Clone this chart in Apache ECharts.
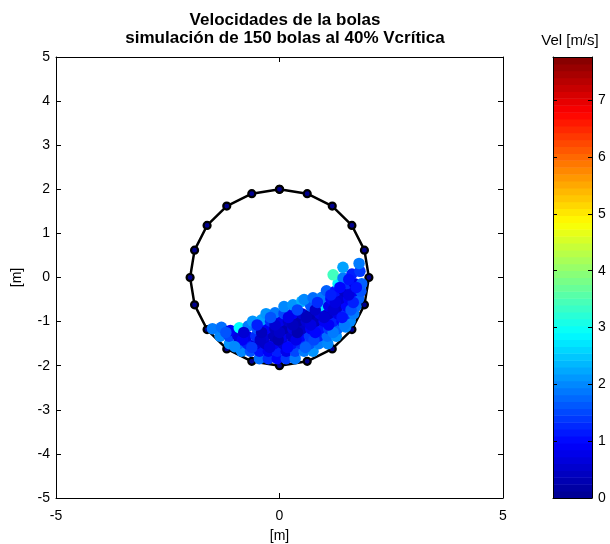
<!DOCTYPE html>
<html>
<head>
<meta charset="utf-8">
<script src="https://cdn.jsdelivr.net/npm/echarts@6/dist/echarts.min.js"></script>
<style>html,body{margin:0;padding:0;background:#fff}#c{width:610px;height:544px}</style>
</head>
<body>
<div id="c"></div>
<script>
// ---- Data ----
const titleText = 'Velocidades de la bolas\nsimulación de 150 bolas al 40% Vcrítica';
const xTicks = [-5, 0, 5];
const yTicks = [-5, -4, -3, -2, -1, 0, 1, 2, 3, 4, 5];
const cbarTicks = [0, 1, 2, 3, 4, 5, 6, 7];
const cbarMax = 7.76;

// mill shell (lifter points), closed polygon
const ringX = [0, 0.62, 1.18, 1.62, 1.9, 2.0, 1.9, 1.62, 1.18, 0.62, 0, -0.62, -1.18, -1.62, -1.9, -2.0, -1.9, -1.62, -1.18, -0.62, 0];
const ringY = [2.0, 1.9, 1.62, 1.18, 0.62, 0, -0.62, -1.18, -1.62, -1.9, -2.0, -1.9, -1.62, -1.18, -0.62, 0, 0.62, 1.18, 1.62, 1.9, 2.0];

// balls: x [m], y [m], velocity [m/s]
const ballX = [
  -0.45,-0.25,-0.05,0.15,0.35,
  -0.85,-0.65,-0.45,-0.25,-0.05,0.15,0.35,0.55,0.75,
  -1.12,-0.92,-0.72,-0.52,-0.32,-0.12,0.08,0.28,0.48,0.68,0.88,1.08,
  -1.33,-1.13,-0.93,-0.73,-0.53,-0.33,-0.13,0.07,0.27,0.47,0.67,0.87,1.07,1.27,
  -1.5,-1.3,-1.1,-0.9,-0.7,-0.5,-0.3,-0.1,0.1,0.3,0.5,0.7,0.9,1.1,1.3,1.48,
  -0.6,-0.4,-0.2,0.0,0.2,0.4,0.6,0.8,1.0,1.2,1.4,1.58,
  -0.3,-0.1,0.1,0.3,0.5,0.7,0.9,1.1,1.3,1.5,1.66,
  0.1,0.3,0.5,0.7,0.91,1.1,1.3,1.5,1.71,
  0.55,0.75,0.95,1.15,1.35,1.55,1.77,
  1.05,1.25,1.45,1.65,1.82,
  1.31,1.5,1.68,1.84,
  1.2,1.42,1.62,1.8,
  1.42,1.78,
  -0.62,-0.22,0.18,0.58,
  -0.83,-0.43,-0.03,0.37,0.77,
  -1.2,-0.8,-0.4,0.0,0.4,0.8,1.2,
  -0.5,-0.1,0.3,0.7,1.1,1.45,
  -0.2,0.2,0.6,1.0,1.4,
  0.4,0.8,1.2,1.6,
  0.85,1.25,1.65,
  1.15,1.55,
  1.35,1.72,
  1.55,
  -1.0
];
const ballY = [
  -1.84,-1.84,-1.84,-1.84,-1.84,
  -1.67,-1.67,-1.67,-1.67,-1.67,-1.67,-1.67,-1.67,-1.67,
  -1.5,-1.5,-1.5,-1.5,-1.5,-1.5,-1.5,-1.5,-1.5,-1.5,-1.5,-1.5,
  -1.33,-1.33,-1.33,-1.33,-1.33,-1.33,-1.33,-1.33,-1.33,-1.33,-1.33,-1.33,-1.33,-1.33,
  -1.16,-1.13,-1.2,-1.14,-1.1,-1.16,-1.16,-1.16,-1.16,-1.16,-1.16,-1.16,-1.16,-1.16,-1.16,-1.12,
  -0.99,-0.96,-0.99,-0.99,-0.99,-0.99,-0.99,-0.99,-0.99,-0.99,-0.99,-0.99,
  -0.82,-0.8,-0.82,-0.82,-0.82,-0.82,-0.82,-0.82,-0.82,-0.82,-0.82,
  -0.66,-0.62,-0.54,-0.65,-0.64,-0.65,-0.65,-0.65,-0.65,
  -0.5,-0.46,-0.45,-0.48,-0.48,-0.48,-0.48,
  -0.3,-0.31,-0.31,-0.31,-0.31,
  -0.14,-0.14,-0.14,-0.14,
  0.06,-0.01,0.08,0.14,
  0.23,0.32,
  -1.585,-1.585,-1.585,-1.585,
  -1.415,-1.415,-1.415,-1.415,-1.415,
  -1.245,-1.245,-1.245,-1.245,-1.245,-1.245,-1.245,
  -1.075,-1.075,-1.075,-1.075,-1.075,-1.075,
  -0.905,-0.905,-0.905,-0.905,-0.905,
  -0.735,-0.735,-0.735,-0.735,
  -0.565,-0.565,-0.565,
  -0.395,-0.395,
  -0.225,-0.225,
  -0.045,
  -1.57
];
const ballV = [
  1.8,1.3,1.0,1.4,1.9,
  2.0,1.6,1.1,0.9,1.2,0.8,1.5,1.9,2.1,
  2.1,1.7,1.2,0.7,0.5,0.9,0.6,1.1,1.3,1.6,1.9,2.0,
  2.0,1.5,0.7,0.8,1.3,0.6,0.4,0.8,0.5,1.0,1.4,1.2,1.8,2.1,
  1.9,1.8,0.9,2.9,1.9,1.6,0.9,0.4,0.3,0.7,0.5,0.9,1.1,1.4,1.7,2.0,
  2.1,2.2,1.3,0.8,0.5,0.3,0.6,0.4,0.9,1.2,1.0,2.0,
  2.1,1.9,1.5,0.9,0.6,0.3,0.7,0.5,0.8,1.3,1.9,
  2.0,2.1,2.3,1.6,2.7,0.8,0.5,1.0,1.8,
  2.0,1.8,1.9,1.0,0.6,0.9,1.7,
  1.7,1.1,0.5,0.9,1.6,
  2.8,1.3,0.8,1.7,
  3.4,1.9,1.2,1.4,
  2.2,1.9,
  1.4,0.7,1.0,1.7,
  0.9,0.5,0.3,0.8,1.5,
  1.6,0.6,0.4,0.5,0.3,1.0,1.9,
  1.2,0.6,0.4,0.7,0.9,1.9,
  1.6,0.8,0.4,0.6,1.1,
  1.5,0.5,0.6,1.6,
  1.3,0.7,1.2,
  1.2,0.7,
  1.0,1.1,
  1.1,
  2.0
];

// ---- Build ----
const jet = ['#00008f','#0000ff','#0080ff','#00ffff','#80ff80','#ffff00','#ff8000','#ff0000','#800000'];
const ringData = ringX.map((x, i) => [x, ringY[i]]);
const ballData = ballX.map((x, i) => [x, ballY[i], ballV[i]]);
const nLev = 64;
const cbarData = [];
for (let i = 0; i < nLev; i++) {
  const lo = cbarMax * i / nLev, hi = cbarMax * (i + 1) / nLev;
  cbarData.push([lo, hi, (lo + hi) / 2]);
}
const font = 'Liberation Sans, Arial, Helvetica, sans-serif';
const lbl = {color: '#000', fontSize: 14, fontFamily: font};
const axLine = {show: true, onZero: false, lineStyle: {color: '#000', width: 1}};

const chart = echarts.init(document.getElementById('c'));
chart.setOption({
  animation: false,
  backgroundColor: '#fff',
  title: [
    {text: titleText, left: 280, top: 6, textAlign: 'center',
     textStyle: {fontSize: 17, fontWeight: 'bold', color: '#000', fontFamily: font, lineHeight: 18}},
    {text: 'Vel [m/s]', left: 565, top: 28, textAlign: 'center',
     textStyle: {fontSize: 15, fontWeight: 'normal', color: '#000', fontFamily: font}}
  ],
  grid: [
    {left: 56, right: 107, top: 57, bottom: 46, outerBoundsMode: 'none', containLabel: false},
    {left: 553, width: 39, top: 57, bottom: 46, outerBoundsMode: 'none', containLabel: false}
  ],
  visualMap: {type: 'continuous', show: false, min: 0, max: cbarMax, dimension: 2,
    seriesIndex: [2, 3], inRange: {color: jet}},
  xAxis: [
    {gridIndex: 0, type: 'value', min: -5, max: 5, interval: 5, position: 'bottom',
     axisLine: axLine, axisTick: {inside: true, length: 5, lineStyle: {color: '#000'}},
     axisLabel: Object.assign({margin: 11}, lbl), splitLine: {show: false},
     name: '[m]', nameLocation: 'middle', nameGap: 31, nameTextStyle: lbl},
    {gridIndex: 0, type: 'value', min: -5, max: 5, interval: 5, position: 'top',
     axisLine: axLine, axisTick: {inside: true, length: 5, lineStyle: {color: '#000'}},
     axisLabel: {show: false}, splitLine: {show: false}},
    {gridIndex: 1, type: 'value', min: 0, max: 1, position: 'bottom', z: 10,
     axisLine: axLine, axisTick: {show: false}, axisLabel: {show: false}, splitLine: {show: false}},
    {gridIndex: 1, type: 'value', min: 0, max: 1, position: 'top', z: 10,
     axisLine: axLine, axisTick: {show: false}, axisLabel: {show: false}, splitLine: {show: false}}
  ],
  yAxis: [
    {gridIndex: 0, type: 'value', min: -5, max: 5, interval: 1, position: 'left',
     axisLine: axLine, axisTick: {inside: true, length: 5, lineStyle: {color: '#000'}},
     axisLabel: Object.assign({margin: 6}, lbl), splitLine: {show: false},
     name: '[m]', nameLocation: 'middle', nameGap: 32, nameRotate: 90, nameTextStyle: lbl},
    {gridIndex: 0, type: 'value', min: -5, max: 5, interval: 1, position: 'right',
     axisLine: axLine, axisTick: {inside: true, length: 5, lineStyle: {color: '#000'}},
     axisLabel: {show: false}, splitLine: {show: false}},
    {gridIndex: 1, type: 'value', min: 0, max: cbarMax, interval: 1, position: 'right', z: 10,
     axisLine: axLine, axisTick: {inside: true, length: 4, lineStyle: {color: '#000'}},
     axisLabel: Object.assign({margin: 6, showMaxLabel: false,
       formatter: v => (Number.isInteger(v) ? String(v) : '')}, lbl),
     splitLine: {show: false}},
    {gridIndex: 1, type: 'value', min: 0, max: cbarMax, interval: 1, position: 'left', z: 10,
     axisLine: axLine, axisTick: {inside: true, length: 4, lineStyle: {color: '#000'}},
     axisLabel: {show: false}, splitLine: {show: false}}
  ],
  series: [
    {type: 'line', xAxisIndex: 0, yAxisIndex: 0, data: ringData, symbol: 'none',
     lineStyle: {color: '#000', width: 2.5}, z: 2, silent: true},
    {type: 'scatter', xAxisIndex: 0, yAxisIndex: 0, data: ringData, symbol: 'circle', symbolSize: 7,
     itemStyle: {color: '#00008f', borderColor: '#000', borderWidth: 2.2, opacity: 1}, z: 3, silent: true},
    {type: 'scatter', xAxisIndex: 0, yAxisIndex: 0, data: ballData, symbol: 'circle', symbolSize: 11.5,
     itemStyle: {opacity: 1}, z: 4, silent: true},
    {type: 'custom', xAxisIndex: 2, yAxisIndex: 2, data: cbarData, silent: true, z: 2,
     encode: {y: [0, 1]},
     renderItem: function (params, api) {
       const p0 = api.coord([0, api.value(1)]);
       const p1 = api.coord([1, api.value(0)]);
       return {type: 'rect', shape: {x: p0[0], y: p0[1], width: p1[0] - p0[0], height: p1[1] - p0[1] + 0.5},
               style: {fill: api.visual('color')}};
     }}
  ]
});
</script>
</body>
</html>
